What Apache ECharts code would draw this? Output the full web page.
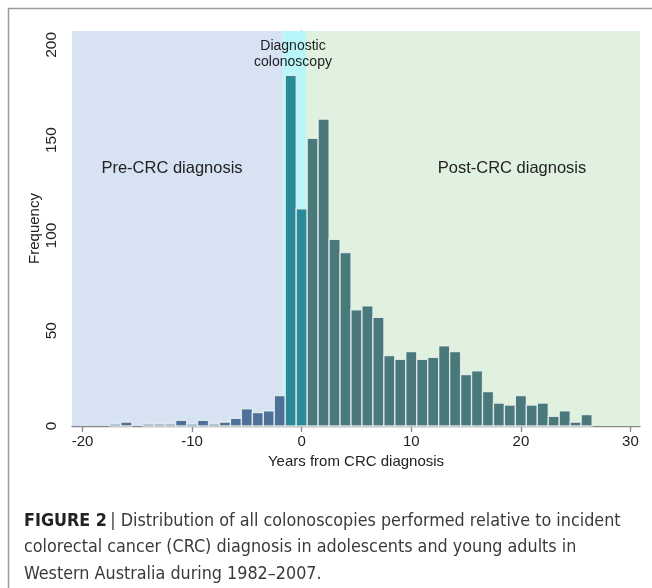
<!DOCTYPE html>
<html>
<head>
<meta charset="utf-8">
<script src="https://cdn.jsdelivr.net/npm/echarts@6/dist/echarts.min.js"></script>
<style>html,body{margin:0;padding:0;background:#fff;}#c{width:652px;height:588px;}</style>
</head>
<body>
<div id="c"></div>
<script>
// ---- data ----
var preYears  = [-17, -16, -14, -13, -12, -11, -10, -9, -8, -7, -6, -5, -4, -3, -2];
var preCounts = [1, 2, 1, 1, 1, 3, 1, 3, 1, 2, 4, 9, 7, 8, 16];
var diagYears  = [-1, 0];
var diagCounts = [184, 114];
var postYears  = [1, 2, 3, 4, 5, 6, 7, 8, 9, 10, 11, 12, 13, 14, 15, 16, 17, 18, 19, 20, 21, 22, 23, 24, 25, 26];
var postCounts = [151, 161, 98, 91, 61, 63, 57, 37, 35, 39, 35, 36, 42, 39, 27, 29, 18, 12, 11, 16, 11, 12, 5, 8, 2, 6];
var xTicks = [-20, -10, 0, 10, 20, 30];
var yTicks = [0, 50, 100, 150, 200];
var regionBounds = [-20.96, -1.73, 0.4, 30.87]; // pre | diagnostic | post
var regionNames = ['Pre-CRC diagnosis', 'Diagnostic\ncolonoscopy', 'Post-CRC diagnosis'];

function pairs(xs, ys) { return xs.map(function (x, i) { return [x, ys[i]]; }); }

function renderBar(params, api) {
  var x = api.value(0), y = api.value(1);
  var p0 = api.coord([x - 0.5, y]);
  var p1 = api.coord([x + 0.5, 0]);
  return {
    type: 'rect',
    shape: { x: p0[0], y: p0[1], width: p1[0] - p0[0], height: p1[1] - p0[1] },
    style: { fill: api.visual('color'), stroke: 'rgba(235,242,240,0.85)', lineWidth: 1.3 }
  };
}
function renderRegion(params, api) {
  var a = api.coord([api.value(0), api.value(2)]);
  var b = api.coord([api.value(1), 0]);
  return {
    type: 'rect',
    shape: { x: a[0], y: a[1], width: b[0] - a[0], height: b[1] - a[1] },
    style: { fill: api.visual('color') }
  };
}

var FONT = 'Liberation Sans, Arial, sans-serif';
var CAPFONT = 'DejaVu Sans Condensed, Liberation Sans Narrow, sans-serif';
var chart = echarts.init(document.getElementById('c'), null, { renderer: 'canvas' });
var yMax = 207.3;
var option = {
  animation: false,
  grid: { left: 72, right: 12, top: 31, bottom: 162 },
  xAxis: {
    type: 'value', min: regionBounds[0], max: regionBounds[3],
    name: 'Years from CRC diagnosis', nameLocation: 'middle', nameGap: 28,
    nameTextStyle: { fontFamily: FONT, fontSize: 15, color: '#222' },
    splitLine: { show: false },
    axisLine: { show: true, onZero: false, lineStyle: { color: '#888', width: 1.3 } },
    axisTick: { show: true, length: 6, customValues: xTicks, lineStyle: { color: '#888', width: 1.3 } },
    axisLabel: { customValues: xTicks, fontFamily: FONT, fontSize: 15, color: '#222', margin: 8 }
  },
  yAxis: {
    type: 'value', min: 0, max: yMax,
    name: 'Frequency', nameLocation: 'middle', nameGap: 30, nameRotate: 90, nameMoveOverlap: false,
    nameTextStyle: { fontFamily: FONT, fontSize: 15, color: '#222' },
    splitLine: { show: false },
    axisLine: { show: true, lineStyle: { color: '#888', width: 1.3 } },
    axisTick: { show: true, length: 6, customValues: yTicks, lineStyle: { color: '#888', width: 1.3 } },
    axisLabel: { customValues: yTicks, rotate: 90, fontFamily: FONT, fontSize: 15.5, color: '#222', margin: 12 }
  },
  series: [
    {
      type: 'custom', renderItem: renderRegion, z: 1, silent: true,
      encode: { x: [0, 1], y: 2 },
      data: [
        { value: [regionBounds[0], regionBounds[1], yMax], itemStyle: { color: '#d7e2f3' } },
        { value: [regionBounds[1], regionBounds[2], yMax], itemStyle: { color: '#b8f6fa' } },
        { value: [regionBounds[2], regionBounds[3], yMax], itemStyle: { color: '#e0f1df' } }
      ]
    },
    { type: 'custom', name: 'pre', renderItem: renderBar, z: 3, itemStyle: { color: '#4d7198' }, encode: { x: 0, y: 1 }, data: pairs(preYears, preCounts) },
    { type: 'custom', name: 'diag', renderItem: renderBar, z: 3, itemStyle: { color: '#2b8a9a' }, encode: { x: 0, y: 1 }, data: pairs(diagYears, diagCounts) },
    { type: 'custom', name: 'post', renderItem: renderBar, z: 3, itemStyle: { color: '#4a797b' }, encode: { x: 0, y: 1 }, data: pairs(postYears, postCounts) }
  ],
  graphic: [
    { type: 'line', shape: { x1: 8, y1: 8.5, x2: 652, y2: 8.5 }, style: { stroke: '#9a9a9a', lineWidth: 1.5 }, z: 10 },
    { type: 'line', shape: { x1: 8.5, y1: 8, x2: 8.5, y2: 588 }, style: { stroke: '#9a9a9a', lineWidth: 1.5 }, z: 10 },
    { type: 'text', x: 172, y: 168, style: { text: regionNames[0], fontFamily: FONT, fontSize: 16.5, fill: '#222', align: 'center', verticalAlign: 'middle' }, z: 20 },
    { type: 'text', x: 512, y: 168, style: { text: regionNames[2], fontFamily: FONT, fontSize: 16.5, fill: '#222', align: 'center', verticalAlign: 'middle' }, z: 20 },
    { type: 'text', x: 293, y: 54, style: { text: regionNames[1], fontFamily: FONT, fontSize: 14, lineHeight: 16, fill: '#222', align: 'center', verticalAlign: 'middle' }, z: 20 },
    { type: 'text', x: 24, y: 508, style: {
        rich: {
          b: { fontFamily: CAPFONT, fontWeight: 'bold', fontSize: 17.8, fill: '#222' },
          n: { fontFamily: CAPFONT, fontSize: 17.8, fill: '#3a3a3a' }
        },
        text: '{b|FIGURE 2} {n|| Distribution of all colonoscopies performed relative to incident}\n{n|colorectal cancer (CRC) diagnosis in adolescents and young adults in}\n{n|Western Australia during 1982–2007.}',
        lineHeight: 26.5
      }, z: 20 }
  ]
};
chart.setOption(option);
</script>
</body>
</html>
